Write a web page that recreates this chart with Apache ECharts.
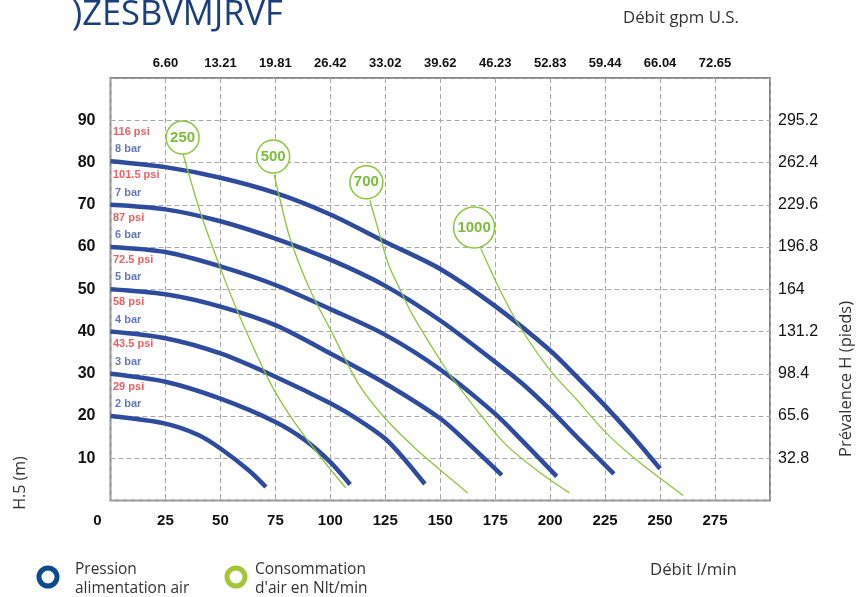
<!DOCTYPE html>
<html><head><meta charset="utf-8">
<script src="https://cdn.jsdelivr.net/npm/echarts@6/dist/echarts.min.js"></script>
<style>html,body{margin:0;padding:0;background:#fff}#c{width:867px;height:597px}</style>
</head><body><div id="c"></div>
<script>
// Tick labels
const topLabels = ['6.60','13.21','19.81','26.42','33.02','39.62','46.23','52.83','59.44','66.04','72.65'];
const rightLabels = ['', '32.8','65.6','98.4','131.2','164','196.8','229.6','262.4','295.2',''];
// Pressure curve labels
const barLabels = ['2 bar','3 bar','4 bar','5 bar','6 bar','7 bar','8 bar'];
const psiLabels = ['29 psi','43.5 psi','58 psi','72.5 psi','87 psi','101.5 psi','116 psi'];
// Pressure curves [flow l/min, head m]
const curve2bar = [[0,20],[25,18.2],[40,15.5],[50,12.3],[62.7,7.2],[70.7,3.2]];
const curve3bar = [[0,30],[25,28.1],[50,24.1],[75,18.6],[88.5,14.3],[100,9.1],[109,3.8]];
const curve4bar = [[0,40],[25,38.4],[50,34.8],[75,29.3],[100,23],[112.5,19.2],[125,14.6],[134,9.6],[143,3.9]];
const curve5bar = [[0,50],[25,48.8],[50,45.9],[75,41.5],[100,34.8],[125,27.7],[150,19.4],[163,13.4],[178,6]];
const curve6bar = [[0,60],[25,58.8],[50,55.4],[75,51],[100,45.3],[125,39.2],[150,31],[175,20.5],[187,14.3],[203,5.7]];
const curve7bar = [[0,70],[25,68.9],[50,66.1],[75,62],[100,57],[125,50.8],[150,42.6],[175,32.8],[187,27.8],[200,21.5],[213,14.6],[229,6.3]];
const curve8bar = [[0,80.3],[25,78.9],[50,76.4],[75,72.8],[100,67.7],[125,61.2],[150,54.8],[175,46],[200,35.5],[213,28.8],[225,22.4],[237.5,15.2],[250,7.5]];
// Air consumption curves (Nlt/min)
const airLabels = ['250','500','700','1000'];
const air250 = [[33,82],[41,68],[50,55],[58,44.5],[72,28.5],[82.4,19.5],[96,10],[107,3]];
const air500 = [[74.5,77],[76.4,72.8],[81.7,62],[90.8,49.8],[100.7,39.8],[112.8,27.6],[125,19.4],[138.7,12.3],[150,7.2],[162.5,1.8]];
const air700 = [[118,71],[122,63.7],[126.5,55.8],[132.6,49],[137,44.3],[150,33.2],[157,27.9],[178.4,14],[193.6,7.3],[208.8,1.8]];
const air1000 = [[168.4,59.7],[177,50],[186,41.3],[199.7,31],[212,23.9],[225.5,16],[239,9.7],[260.5,1.2]];
const airBubbles = [[32.8,85.9],[74,81.4],[116.4,75.3],[165.4,64.6]];

const curves = [curve2bar,curve3bar,curve4bar,curve5bar,curve6bar,curve7bar,curve8bar];
const airCurves = [air250,air500,air700,air1000];

const BLUE = '#2f4b9e', GREEN = '#8cc63f', GREEN_TXT = '#7cbc3a';
const FONT = "'Liberation Sans', Arial, sans-serif";
const OPEN = "'Open Sans', 'Noto Sans', sans-serif";

const series = [];
curves.forEach((c, i) => series.push({
  type: 'line', name: barLabels[i], data: c, smooth: 0.3, showSymbol: false,
  lineStyle: { color: BLUE, width: 4.5, cap: 'butt' }, z: 3, silent: true
}));
airCurves.forEach((c, i) => series.push({
  type: 'line', name: airLabels[i], data: c, smooth: 0.3, showSymbol: false,
  lineStyle: { color: GREEN, width: 1.3 }, z: 4, silent: true
}));
series.push({
  type: 'scatter', data: airBubbles, z: 6, silent: true,
  symbol: 'circle',
  symbolSize: (v, p) => airLabels[p.dataIndex].length > 3 ? 41 : 33,
  itemStyle: { color: '#fff', borderColor: GREEN, borderWidth: 1.5, opacity: 1 },
  label: { show: true, position: 'inside', formatter: p => airLabels[p.dataIndex],
    color: GREEN_TXT, fontWeight: 'bold', fontSize: 15, fontFamily: FONT }
});
series.push({
  type: 'scatter', data: curves.map(c => [0, c[0][1]]), z: 7, silent: true, symbolSize: 1,
  itemStyle: { color: 'rgba(0,0,0,0)' },
  label: { show: true, position: 'right', distance: 4, offset: [0, -12],
    formatter: p => barLabels[p.dataIndex], color: '#3d55a5', fontWeight: 'bold', fontSize: 11, fontFamily: FONT }
});
series.push({
  type: 'scatter', data: curves.map(c => [0, c[0][1]]), z: 7, silent: true, symbolSize: 1,
  itemStyle: { color: 'rgba(0,0,0,0)' },
  label: { show: true, position: 'right', distance: 2, offset: [0, -29.5],
    formatter: p => psiLabels[p.dataIndex], color: '#e8363a', fontWeight: 'bold', fontSize: 11, fontFamily: FONT }
});

const chart = echarts.init(document.getElementById('c'), null, { renderer: 'canvas' });
chart.setOption({
  animation: false,
  backgroundColor: '#fff',
  grid: { left: 110.5, right: 97, top: 78, bottom: 96.5, show: true, borderColor: '#8a8a8a', borderWidth: 2, backgroundColor: 'transparent' },
  xAxis: [{
    type: 'value', min: 0, max: 300, interval: 25, position: 'bottom',
    axisLine: { show: false }, axisTick: { show: false },
    splitLine: { show: true, lineStyle: { color: '#a8a8a8', type: [5, 3], width: 1 } },
    axisLabel: { margin: 13, fontSize: 15, fontWeight: 'bold', color: '#111', fontFamily: FONT,
      formatter: v => v === 300 ? '' : (v === 0 ? '{z|0}' : String(v)),
      rich: { z: { fontSize: 15, fontWeight: 'bold', color: '#111', fontFamily: FONT, padding: [0, 26, 0, 0] } } }
  }, {
    type: 'value', min: 0, max: 300, interval: 25, position: 'top',
    axisLine: { show: false }, axisTick: { show: false }, splitLine: { show: false },
    axisLabel: { margin: 8, fontSize: 13, fontWeight: 'bold', color: '#111', fontFamily: FONT,
      formatter: v => topLabels[v / 25 - 1] || '' }
  }],
  yAxis: [{
    type: 'value', min: 0, max: 100, interval: 10, position: 'left',
    axisLine: { show: false }, axisTick: { show: false },
    splitLine: { show: true, lineStyle: { color: '#a8a8a8', type: [5, 3], width: 1 } },
    axisLabel: { margin: 15, fontSize: 16, fontWeight: 'bold', color: '#111', fontFamily: FONT,
      formatter: v => (v === 0 || v === 100) ? '' : String(v) }
  }, {
    type: 'value', min: 0, max: 100, interval: 10, position: 'right',
    axisLine: { show: false }, axisTick: { show: false }, splitLine: { show: false },
    axisLabel: { margin: 8, fontSize: 16, color: '#111', fontFamily: FONT, padding: [0, 0, 6, 0],
      formatter: v => rightLabels[v / 10] || '' }
  }],
  series: series,
  graphic: [
    { type: 'text', left: 72, top: -2, style: { text: ')ZESBVMJRVF', fontSize: 34.5, fontFamily: OPEN, fill: '#1a3f7c' } },
    { type: 'text', left: 623, top: 10, style: { text: 'Débit gpm U.S.', fontSize: 16.8, fontFamily: OPEN, fill: '#333' } },
    { type: 'text', left: 650, top: 562, style: { text: 'Débit l/min', fontSize: 16.8, fontFamily: OPEN, fill: '#333' } },
    { type: 'text', x: 846, y: 379, rotation: Math.PI / 2,
      style: { text: 'Prévalence H (pieds)', fontSize: 16.5, fontFamily: OPEN, fill: '#333', align: 'center', verticalAlign: 'middle' } },
    { type: 'text', x: 20, y: 483, rotation: Math.PI / 2,
      style: { text: 'H.5 (m)', fontSize: 16, fontFamily: OPEN, fill: '#333', align: 'center', verticalAlign: 'middle' } },
    { type: 'circle', shape: { cx: 48, cy: 577, r: 9 }, style: { fill: 'none', stroke: '#0d4a8f', lineWidth: 5 } },
    { type: 'text', left: 75, top: 560, style: { text: 'Pression\nalimentation air', fontSize: 15.5, lineHeight: 19, fontFamily: OPEN, fill: '#333' } },
    { type: 'circle', shape: { cx: 236, cy: 577, r: 9 }, style: { fill: 'none', stroke: '#a6c43a', lineWidth: 5 } },
    { type: 'text', left: 255, top: 560, style: { text: "Consommation\nd'air en Nlt/min", fontSize: 15.5, lineHeight: 19, fontFamily: OPEN, fill: '#333' } }
  ]
});
</script></body></html>
